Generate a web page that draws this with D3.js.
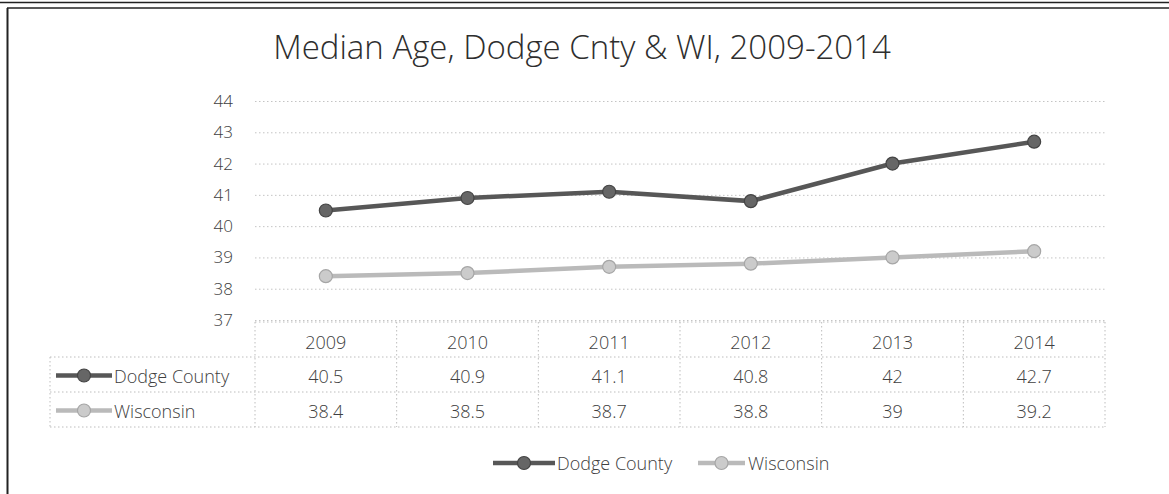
<!DOCTYPE html>
<html>
<head>
<meta charset="utf-8">
<script src="https://cdn.jsdelivr.net/npm/d3@7"></script>
<style>
  body { margin: 0; background: #fff; }
  svg { display: block; font-family: 'Open Sans', sans-serif; }
</style>
</head>
<body>
<svg id="chart" width="1169" height="494"></svg>
<script>
const years = ['2009', '2010', '2011', '2012', '2013', '2014']
const dodgeCounty = [40.5, 40.9, 41.1, 40.8, 42, 42.7]
const wisconsin = [38.4, 38.5, 38.7, 38.8, 39, 39.2]
const yTicks = [37, 38, 39, 40, 41, 42, 43, 44]
const seriesNames = ['Dodge County', 'Wisconsin']
const title = 'Median Age, Dodge Cnty & WI, 2009-2014'

const colors = {
  'Dodge County': { line: '#575757', fill: '#666', stroke: '#444' },
  Wisconsin: { line: '#bababa', fill: '#cbcbcb', stroke: '#a6a6a6' },
}
const series = [
  { name: seriesNames[0], values: dodgeCounty },
  { name: seriesNames[1], values: wisconsin },
]

const svg = d3.select('#chart')

// frame: double rule on top, single rule on the left
svg.append('line').attr('x1', 0).attr('x2', 1169).attr('y1', 2.5).attr('y2', 2.5)
  .attr('stroke', '#222').attr('stroke-width', 1.5)
svg.append('line').attr('x1', 7).attr('x2', 1169).attr('y1', 8).attr('y2', 8)
  .attr('stroke', '#222').attr('stroke-width', 1.5)
svg.append('line').attr('x1', 7.5).attr('x2', 7.5).attr('y1', 8).attr('y2', 494)
  .attr('stroke', '#222').attr('stroke-width', 2)

const plotLeft = 255
const plotRight = 1105

const x = d3.scaleBand().domain(years).range([plotLeft, plotRight])
const y = d3.scaleLinear().domain([37, 44]).range([320, 101])
const cx = (d) => x(d) + x.bandwidth() / 2

svg.append('text')
  .attr('x', 582)
  .attr('y', 59)
  .attr('text-anchor', 'middle')
  .attr('font-size', 33)
  .attr('font-weight', 300)
  .attr('fill', '#2e2e2e')
  .text(title)

// gridlines
svg.append('g')
  .attr('transform', `translate(${plotLeft},0)`)
  .call(d3.axisLeft(y).tickValues(yTicks).tickSize(-(plotRight - plotLeft)).tickFormat(''))
  .call((g) => g.select('.domain').remove())
  .call((g) => g.selectAll('line')
    .attr('stroke', '#c4c4c4')
    .attr('stroke-dasharray', '1.5,2.5'))

// y labels
svg.append('g')
  .attr('transform', 'translate(233,0)')
  .call(d3.axisLeft(y).tickValues(yTicks).tickSize(0).tickPadding(0).tickFormat(d3.format('d')))
  .call((g) => g.select('.domain').remove())
  .call((g) => g.selectAll('text')
    .attr('font-size', 17)
    .attr('font-weight', 300)
    .attr('font-family', 'Open Sans, sans-serif')
    .attr('fill', '#404040'))

// lines and markers
const line = d3.line()
  .x((d, i) => cx(years[i]))
  .y((d) => y(d))

series.forEach((s) => {
  const c = colors[s.name]
  svg.append('path')
    .datum(s.values)
    .attr('fill', 'none')
    .attr('stroke', c.line)
    .attr('stroke-width', 4.5)
    .attr('d', line)
  svg.append('g')
    .selectAll('circle')
    .data(s.values)
    .join('circle')
    .attr('cx', (d, i) => cx(years[i]))
    .attr('cy', (d) => y(d))
    .attr('r', 6.5)
    .attr('fill', c.fill)
    .attr('stroke', c.stroke)
    .attr('stroke-width', 1.2)
})

// data table
const tableTop = 322
const rowH = 35
const labelLeft = 50
const grid = svg.append('g')
  .attr('stroke', '#bdbdbd')
  .attr('stroke-dasharray', '1.5,2.5')
  .attr('fill', 'none')

grid.append('line').attr('x1', plotLeft).attr('x2', plotRight)
  .attr('y1', tableTop).attr('y2', tableTop)
for (let r = 1; r <= 3; r++) {
  grid.append('line').attr('x1', labelLeft).attr('x2', plotRight)
    .attr('y1', tableTop + r * rowH).attr('y2', tableTop + r * rowH)
}
years.forEach((yr) => {
  grid.append('line').attr('x1', x(yr)).attr('x2', x(yr))
    .attr('y1', tableTop).attr('y2', tableTop + 3 * rowH)
})
grid.append('line').attr('x1', plotRight).attr('x2', plotRight)
  .attr('y1', tableTop).attr('y2', tableTop + 3 * rowH)
grid.append('line').attr('x1', labelLeft).attr('x2', labelLeft)
  .attr('y1', tableTop + rowH).attr('y2', tableTop + 3 * rowH)

const cellText = (sel) => sel
  .attr('font-size', 18)
  .attr('font-weight', 300)
  .attr('fill', '#404040')
  .attr('dominant-baseline', 'central')

svg.append('g').selectAll('text')
  .data(years)
  .join('text')
  .attr('x', (d) => cx(d))
  .attr('y', tableTop + rowH / 2 + 2)
  .attr('text-anchor', 'middle')
  .call(cellText)
  .text((d) => d)

const legendKey = (g, name, x0, len, yy) => {
  const c = colors[name]
  g.append('line')
    .attr('x1', x0).attr('x2', x0 + len)
    .attr('y1', yy).attr('y2', yy)
    .attr('stroke', c.line).attr('stroke-width', 4.5)
  g.append('circle')
    .attr('cx', x0 + len / 2).attr('cy', yy).attr('r', 6.5)
    .attr('fill', c.fill).attr('stroke', c.stroke).attr('stroke-width', 1.2)
}

series.forEach((s, r) => {
  const rowY = tableTop + (r + 1.5) * rowH + 1
  const g = svg.append('g')
  legendKey(g, s.name, 56, 56, rowY)
  g.append('text')
    .attr('x', 114)
    .attr('y', rowY)
    .call(cellText)
    .text(s.name)
  g.selectAll('.val')
    .data(s.values)
    .join('text')
    .attr('class', 'val')
    .attr('x', (d, i) => cx(years[i]))
    .attr('y', rowY)
    .attr('text-anchor', 'middle')
    .call(cellText)
    .text((d) => d)
})

// bottom legend
const legendPos = [493, 698]
series.forEach((s, i) => {
  const g = svg.append('g')
  legendKey(g, s.name, legendPos[i], i === 0 ? 62 : 47, 463)
  g.append('text')
    .attr('x', legendPos[i] + (i === 0 ? 64 : 50))
    .attr('y', 463)
    .call(cellText)
    .text(s.name)
})
</script>
</body>
</html>
